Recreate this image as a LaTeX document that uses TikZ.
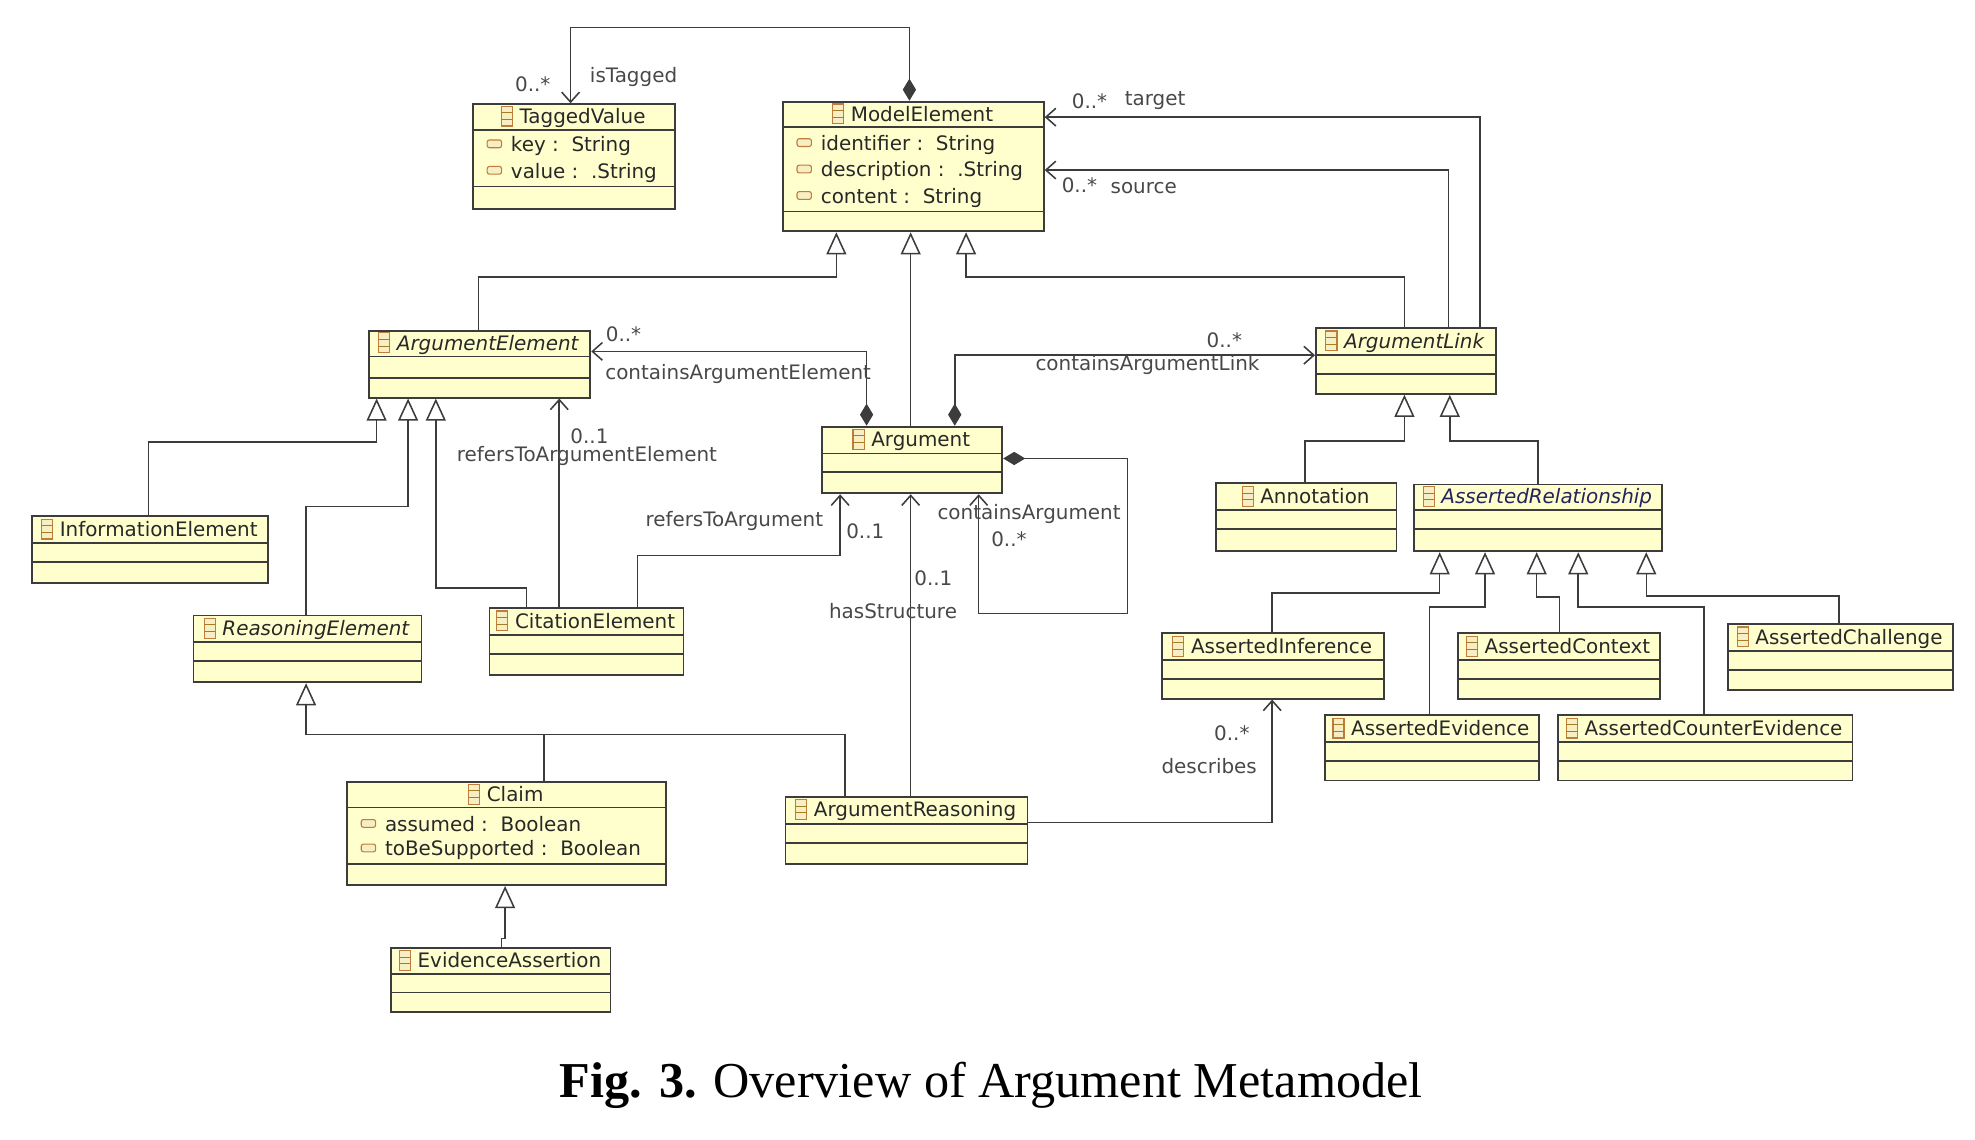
\documentclass[tikz,border=0pt]{standalone}
\usepackage{fontspec}
\setmainfont{DejaVu Sans}
\newfontfamily\capfont{Liberation Serif}
\usetikzlibrary{arrows.meta}

\definecolor{clsfill}{RGB}{255,255,206}
\definecolor{clsline}{RGB}{60,60,60}
\definecolor{icobrown}{RGB}{190,125,60}
\definecolor{icofill}{RGB}{248,238,196}
\definecolor{txtgray}{RGB}{40,40,40}
\definecolor{relblue}{RGB}{35,35,95}

\newsavebox{\clsicon}
\sbox{\clsicon}{\tikz{\draw[icobrown, line width=0.5pt, fill=icofill] (0,0) rectangle (5pt,9pt);
  \draw[icobrown!60!olive, line width=0.4pt] (0,3pt) -- (5pt,3pt) (0,6pt) -- (5pt,6pt);}}
\newsavebox{\attricon}
\sbox{\attricon}{\tikz{\draw[icobrown, line width=0.5pt, fill=icofill, rounded corners=1pt] (0,0) rectangle (6.5pt,3.5pt);}}

\tikzset{
  cls/.style={draw=clsline, fill=clsfill, line width=0.8pt, inner sep=0pt, anchor=north west},
  box/.style 2 args={minimum width=#1*0.02cm, minimum height=#2*0.02cm},
  sepline/.style={draw=clsline, line width=0.8pt},
  clsname/.style={font=\fontsize{9}{10}\selectfont, text=txtgray, inner sep=0pt},
  attr/.style={font=\fontsize{9}{10}\selectfont, text=txtgray, inner sep=0pt, anchor=west},
  lbl/.style={font=\fontsize{9}{10}\selectfont, text=txtgray!85, inner sep=1pt},
  link/.style={draw=clsline, line width=0.7pt},
  gen/.style={link, -{Triangle[open, length=10pt, width=9pt, fill=white]}},
  assoc/.style={link, -{Straight Barb[length=4.5pt, width=8pt]}},
  comp/.style={link, {Diamond[length=10pt, width=6pt]}-{Straight Barb[length=4.5pt, width=8pt]}}
}

\newcommand{\cn}[1]{\raisebox{-1.5pt}{\usebox{\clsicon}}\hspace{3pt}#1}
\newcommand{\at}[1]{\raisebox{1.5pt}{\usebox{\attricon}}\hspace{4pt}#1}

\begin{document}
\begin{tikzpicture}[x=0.02cm, y=-0.02cm]
\path[use as bounding box] (0,0) rectangle (1568,905);

% class boxes
\node[cls, box={160}{83}] (TV) at (375,82) {};
\node[cls, box={207}{103}] (ME) at (621,80) {};
\node[cls, box={176}{53}] (AE) at (292,262) {};
\node[cls, box={143}{53}] (ARG) at (652,338) {};
\node[cls, box={143}{52}] (AL) at (1044,260) {};
\node[cls, box={187}{53}] (IE) at (25,409) {};
\node[cls, box={181}{53}] (RE) at (153,488) {};
\node[cls, box={154}{53}] (CE) at (388,482) {};
\node[cls, box={253}{82}] (CL) at (275,620) {};
\node[cls, box={174}{51}] (EA) at (310,752) {};
\node[cls, box={192}{53}] (AR) at (623,632) {};
\node[cls, box={143}{54}] (AN) at (965,383) {};
\node[cls, box={197}{53}] (ARL) at (1122,384) {};
\node[cls, box={176}{52}] (AI) at (922,502) {};
\node[cls, box={160}{52}] (AC) at (1157,502) {};
\node[cls, box={179}{52}] (ACh) at (1371,495) {};
\node[cls, box={170}{52}] (AEv) at (1051,567) {};
\node[cls, box={234}{52}] (ACE) at (1236,567) {};

\foreach \n/\a/\b in {TV/103/148, ME/101/168, AE/283/300, ARG/360/375, AL/282/297,
  IE/431/446, RE/510/525, CE/504/519, CL/641/686, EA/773/788, AR/654/669,
  AN/405/420, ARL/405/420, AI/524/539, AC/524/539, ACh/517/532, AEv/589/604, ACE/589/604}
  \draw[sepline] (\n.west |- 0,\a) -- (\n.east |- 0,\a) (\n.west |- 0,\b) -- (\n.east |- 0,\b);

% class names
\node[clsname] (TVt) at (455,92.5) {\cn{TaggedValue}};
\node[clsname] (MEt) at (724.5,90.5) {\cn{ModelElement}};
\node[clsname] (AEt) at (380,272.5) {\cn{\textit{ArgumentElement}}};
\node[clsname] (ARGt) at (723.5,349) {\cn{Argument}};
\node[clsname] (ALt) at (1115.5,271) {\cn{\textit{ArgumentLink}}};
\node[clsname] (IEt) at (118.5,420) {\cn{InformationElement}};
\node[clsname] (REt) at (243.5,499) {\cn{\textit{ReasoningElement}}};
\node[clsname] (CEt) at (465,493) {\cn{CitationElement}};
\node[clsname] (CLt) at (401.5,630.5) {\cn{Claim}};
\node[clsname] (EAt) at (397,762.5) {\cn{EvidenceAssertion}};
\node[clsname] (ARt) at (719,643) {\cn{ArgumentReasoning}};
\node[clsname] (ANt) at (1036.5,394) {\cn{Annotation}};
\node[clsname, text=relblue] (ARLt) at (1220.5,394.5) {\cn{\textit{AssertedRelationship}}};
\node[clsname] (AIt) at (1010,513) {\cn{AssertedInference}};
\node[clsname] (ACt) at (1237,513) {\cn{AssertedContext}};
\node[clsname] (ACht) at (1460.5,506) {\cn{AssertedChallenge}};
\node[clsname] (AEvt) at (1136,578) {\cn{AssertedEvidence}};
\node[clsname] (ACEt) at (1353,578) {\cn{AssertedCounterEvidence}};

% attributes
\node[attr] (TVa1) at (386,116) {\at{key :\ \ String}};
\node[attr] (TVa2) at (386,137) {\at{value :\ \ .String}};
\node[attr] (MEa1) at (632,115) {\at{identifier :\ \ String}};
\node[attr] (MEa2) at (632,136) {\at{description :\ \ .String}};
\node[attr] (MEa3) at (632,157) {\at{content :\ \ String}};
\node[attr] (CLa1) at (286,654) {\at{assumed :\ \ Boolean}};
\node[attr] (CLa2) at (286,675) {\at{toBeSupported :\ \ Boolean}};

% associations
\draw[comp] (ME.north -| 722,0) |- (453,22) -- (TV.north -| 453,0);
\draw[assoc] (AL.north -| 1175,0) |- (ME.east |- 0,93);
\draw[assoc] (AL.north -| 1150,0) |- (ME.east |- 0,135);
\draw[comp] (ARG.north -| 688,0) |- (AE.east |- 0,279);
\draw[comp] (ARG.north -| 758,0) |- (AL.west |- 0,282);
\draw[comp] (ARG.east |- 0,364) -| (895,487) -| (ARG.south -| 777,0);
\draw[assoc] (AR.north -| 723,0) -- (ARG.south -| 723,0);
\draw[assoc] (CE.north -| 506,0) |- (667,441) -- (ARG.south -| 667,0);
\draw[assoc] (CE.north -| 444,0) -- (AE.south -| 444,0);
\draw[assoc] (AR.east |- 0,653) -| (AI.south -| 1010,0);

% generalizations
\draw[gen] (AE.north -| 380,0) |- (664,220) -- (ME.south -| 664,0);
\draw[gen] (ARG.north -| 723,0) -- (ME.south -| 723,0);
\draw[gen] (AL.north -| 1115,0) |- (767,220) -- (ME.south -| 767,0);
\draw[gen] (IE.north -| 118,0) |- (299,351) -- (AE.south -| 299,0);
\draw[gen] (RE.north -| 243,0) |- (324,402) -- (AE.south -| 324,0);
\draw[gen] (CE.north -| 418,0) |- (346,467) -- (AE.south -| 346,0);
\draw[gen] (AR.north -| 671,0) |- (243,583) -- (RE.south -| 243,0);
\draw[link] (CL.north -| 432,0) -- (432,583);
\draw[gen] (EA.north -| 398,0) -- (398,745) -- (401,745) -- (CL.south -| 401,0);
\draw[gen] (AN.north -| 1036,0) |- (1115,350) -- (AL.south -| 1115,0);
\draw[gen] (ARL.north -| 1221,0) |- (1151,350) -- (AL.south -| 1151,0);
\draw[gen] (AI.north -| 1010,0) |- (1143,471) -- (ARL.south -| 1143,0);
\draw[gen] (AEv.north -| 1135,0) |- (1179,482) -- (ARL.south -| 1179,0);
\draw[gen] (AC.north -| 1238,0) |- (1220,474) -- (ARL.south -| 1220,0);
\draw[gen] (ACE.north -| 1353,0) |- (1253,482) -- (ARL.south -| 1253,0);
\draw[gen] (ACh.north -| 1460,0) |- (1307,473) -- (ARL.south -| 1307,0);

% role labels
\node[lbl] (m1) at (423,67) {0..*};
\node[lbl] (r1) at (503,61) {isTagged};
\node[lbl] (m2) at (865,80) {0..*};
\node[lbl] (r2) at (917,80) {target};
\node[lbl] (m3) at (857,147) {0..*};
\node[lbl] (r3) at (908,149) {source};
\node[lbl] (m4) at (495,265) {0..*};
\node[lbl] (r4) at (586,297) {containsArgumentElement};
\node[lbl] (m5) at (972,270) {0..*};
\node[lbl] (r5) at (911,290) {containsArgumentLink};
\node[lbl] (r6) at (817,408) {containsArgument};
\node[lbl] (m6) at (801,428) {0..*};
\node[lbl] (m7) at (741,459) {0..1};
\node[lbl] (r7) at (709,485) {hasStructure};
\node[lbl] (r8) at (583,414) {refersToArgument};
\node[lbl] (m8) at (687,422) {0..1};
\node[lbl] (m9) at (468,346) {0..1};
\node[lbl] (r9) at (466,362) {refersToArgumentElement};
\node[lbl] (m10) at (978,582) {0..*};
\node[lbl] (r10) at (960,608) {describes};

% caption
\node[font=\capfont\fontsize{22.7}{27}\selectfont, inner sep=0pt] (cap) at (787,862) {\textbf{Fig. 3.} Overview of Argument Metamodel};
\end{tikzpicture}
\end{document}
